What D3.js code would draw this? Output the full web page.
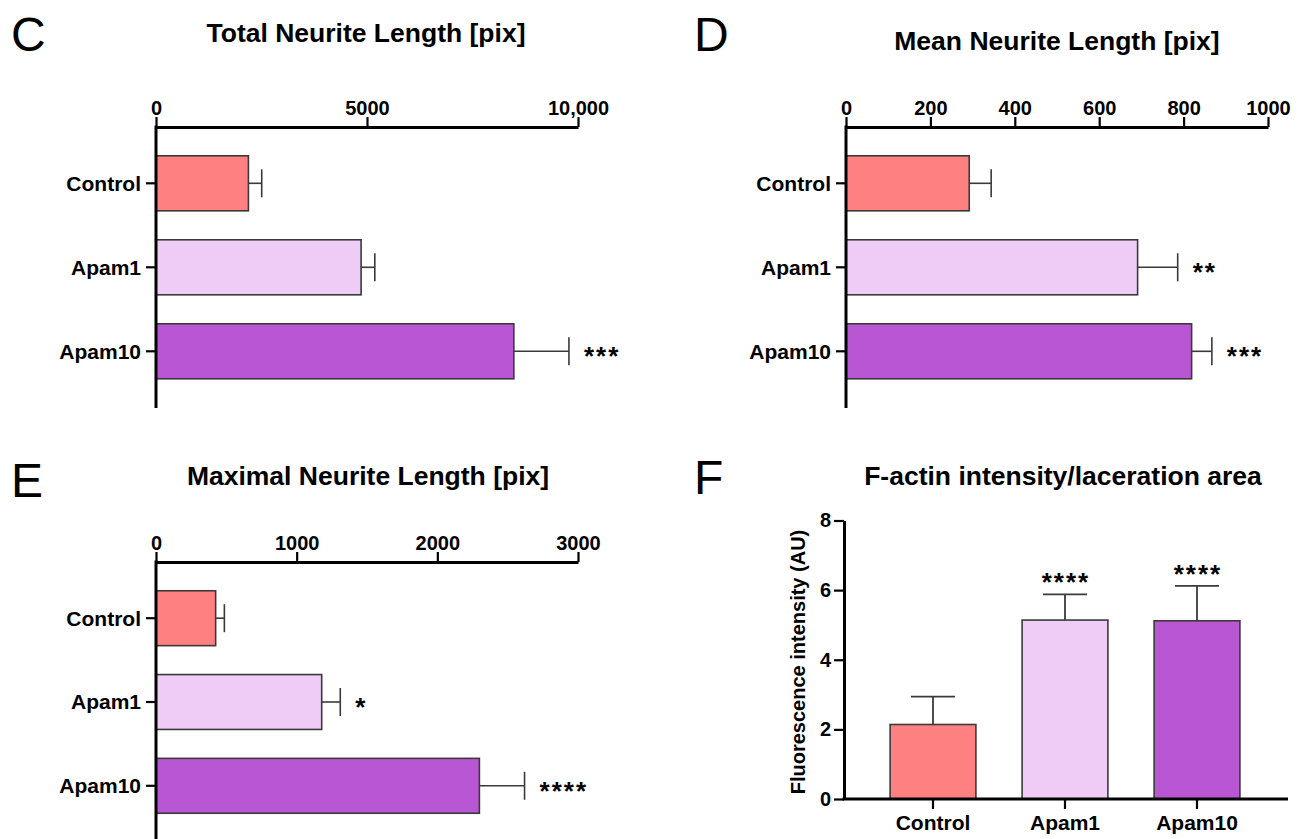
<!DOCTYPE html>
<html><head><meta charset="utf-8">
<script src="https://cdn.jsdelivr.net/npm/d3@7"></script>
<style>
body{margin:0;background:#fff;}
svg{display:block;font-family:"Liberation Sans",Arial,Helvetica,sans-serif;}
</style></head><body>
<svg id="chart" width="1303" height="839"></svg>
<script>
// ---- data ----
const categories = ["Control", "Apam1", "Apam10"];
const barColors = ["#FF8080", "#EECCF6", "#B856D4"];

const totalTitle = "Total Neurite Length [pix]";
const totalMean = [2190, 4860, 8480];
const totalErr = [315, 325, 1305];
const totalStars = ["", "", "***"];
const totalTicks = [0, 5000, 10000];
const totalTickLabels = ["0", "5000", "10,000"];

const meanTitle = "Mean Neurite Length [pix]";
const meanMean = [292, 691, 819];
const meanErr = [52, 95, 48];
const meanStars = ["", "**", "***"];
const meanTicks = [0, 200, 400, 600, 800, 1000];
const meanTickLabels = ["0", "200", "400", "600", "800", "1000"];

const maxTitle = "Maximal Neurite Length [pix]";
const maxMean = [424, 1178, 2299];
const maxErr = [62, 132, 321];
const maxStars = ["", "*", "****"];
const maxTicks = [0, 1000, 2000, 3000];
const maxTickLabels = ["0", "1000", "2000", "3000"];

const factinTitle = "F-actin intensity/laceration area";
const factinYLabel = "Fluorescence intensity (AU)";
const factinMean = [2.14, 5.14, 5.12];
const factinErr = [0.80, 0.74, 1.00];
const factinStars = ["", "****", "****"];
const factinTicks = [0, 2, 4, 6, 8];

const svg = d3.select("#chart");
const INK = "#000";
const BAR_STROKE = "#3a3a3a";
const ERR_STROKE = "#3a3a3a";

function panelLetter(txt, x, y) {
  svg.append("text").attr("x", x).attr("y", y).text(txt)
    .attr("font-size", 48).attr("font-weight", "normal").attr("fill", INK);
}
function panelTitle(txt, cx, y) {
  svg.append("text").attr("x", cx).attr("y", y).text(txt)
    .attr("text-anchor", "middle").attr("font-size", 26.5)
    .attr("font-weight", "bold").attr("fill", INK);
}

function hPanel(cfg) {
  const g = svg.append("g");
  const x = d3.scaleLinear().domain([0, cfg.max]).range([cfg.x0, cfg.x1]);
  const y = d3.scaleBand().domain(categories).range(cfg.band)
    .paddingInner(0.345).paddingOuter(0.1725);
  const data = categories.map((c, i) => ({c, i, m: cfg.means[i], e: cfg.errs[i], s: cfg.stars[i]}));

  // bars
  g.selectAll("rect.bar").data(data).join("rect")
    .attr("x", x(0)).attr("y", d => y(d.c))
    .attr("width", d => x(d.m) - x(0)).attr("height", y.bandwidth())
    .attr("fill", d => barColors[d.i]).attr("stroke", BAR_STROKE).attr("stroke-width", 1.6);

  // error bars
  const cap = 14;
  g.selectAll("line.err").data(data).join("line")
    .attr("x1", d => x(d.m)).attr("x2", d => x(d.m + d.e))
    .attr("y1", d => y(d.c) + y.bandwidth() / 2).attr("y2", d => y(d.c) + y.bandwidth() / 2)
    .attr("stroke", ERR_STROKE).attr("stroke-width", 1.6);
  g.selectAll("line.cap").data(data).join("line")
    .attr("x1", d => x(d.m + d.e)).attr("x2", d => x(d.m + d.e))
    .attr("y1", d => y(d.c) + y.bandwidth() / 2 - cap).attr("y2", d => y(d.c) + y.bandwidth() / 2 + cap)
    .attr("stroke", ERR_STROKE).attr("stroke-width", 1.6);

  // stars
  g.selectAll("text.star").data(data).join("text")
    .attr("x", d => x(d.m + d.e) + 15).attr("y", d => y(d.c) + y.bandwidth() / 2 + 14)
    .attr("font-size", 26).attr("font-weight", "bold").attr("letter-spacing", 2)
    .attr("fill", INK).text(d => d.s);

  // top axis
  const ax = d3.axisTop(x).tickValues(cfg.ticks).tickFormat((d, i) => cfg.tickLabels[i])
    .tickSize(10).tickSizeOuter(0).tickPadding(2);
  const axg = g.append("g").attr("transform", `translate(0,${cfg.axisY})`).call(ax);
  axg.select(".domain").attr("stroke", INK).attr("stroke-width", 3);
  axg.selectAll(".tick line").attr("stroke", INK).attr("stroke-width", 2.2);
  axg.selectAll(".tick text").attr("font-size", 20).attr("font-weight", "bold")
    .attr("fill", INK).attr("font-family", null);
  axg.attr("font-family", null);

  // left axis
  g.append("line").attr("x1", x(0)).attr("x2", x(0))
    .attr("y1", cfg.axisY - 1.5).attr("y2", cfg.vEnd)
    .attr("stroke", INK).attr("stroke-width", 3);
  const ay = d3.axisLeft(y).tickSize(10).tickPadding(5);
  const ayg = g.append("g").attr("transform", `translate(${x(0)},0)`).call(ay);
  ayg.select(".domain").remove();
  ayg.attr("font-family", null);
  ayg.selectAll(".tick line").attr("stroke", INK).attr("stroke-width", 2.2);
  ayg.selectAll(".tick text").attr("font-size", 21).attr("font-weight", "bold")
    .attr("fill", INK).attr("dy", "0.35em");
}

// C
panelLetter("C", 11, 51);
panelTitle(totalTitle, 366, 42);
hPanel({x0: 156, x1: 578, max: 10000, axisY: 127, band: [141.3, 393.3], vEnd: 408,
  means: totalMean, errs: totalErr, stars: totalStars, ticks: totalTicks, tickLabels: totalTickLabels});

// D
panelLetter("D", 694, 51);
panelTitle(meanTitle, 1057, 50);
hPanel({x0: 846, x1: 1268, max: 1000, axisY: 127, band: [141.3, 393.3], vEnd: 408,
  means: meanMean, errs: meanErr, stars: meanStars, ticks: meanTicks, tickLabels: meanTickLabels});

// E
panelLetter("E", 11, 497);
panelTitle(maxTitle, 368, 485);
hPanel({x0: 156, x1: 578, max: 3000, axisY: 562, band: [576.3, 827.7], vEnd: 850,
  means: maxMean, errs: maxErr, stars: maxStars, ticks: maxTicks, tickLabels: maxTickLabels});

// F
panelLetter("F", 694, 494);
panelTitle(factinTitle, 1063, 485);
(function () {
  const g = svg.append("g");
  const y = d3.scaleLinear().domain([0, 8]).range([799, 520.5]);
  const x = d3.scaleBand().domain(categories).range([867, 1263])
    .paddingInner(0.35).paddingOuter(0.175);
  const data = categories.map((c, i) => ({c, i, m: factinMean[i], e: factinErr[i], s: factinStars[i]}));
  const x0 = 844, xEnd = 1288;

  g.selectAll("rect.bar").data(data).join("rect")
    .attr("x", d => x(d.c)).attr("y", d => y(d.m))
    .attr("width", x.bandwidth()).attr("height", d => y(0) - y(d.m))
    .attr("fill", d => barColors[d.i]).attr("stroke", BAR_STROKE).attr("stroke-width", 1.6);

  const cap = 22;
  g.selectAll("line.err").data(data).join("line")
    .attr("x1", d => x(d.c) + x.bandwidth() / 2).attr("x2", d => x(d.c) + x.bandwidth() / 2)
    .attr("y1", d => y(d.m)).attr("y2", d => y(d.m + d.e))
    .attr("stroke", ERR_STROKE).attr("stroke-width", 1.8);
  g.selectAll("line.cap").data(data).join("line")
    .attr("x1", d => x(d.c) + x.bandwidth() / 2 - cap).attr("x2", d => x(d.c) + x.bandwidth() / 2 + cap)
    .attr("y1", d => y(d.m + d.e)).attr("y2", d => y(d.m + d.e))
    .attr("stroke", ERR_STROKE).attr("stroke-width", 1.8);

  g.selectAll("text.star").data(data).join("text")
    .attr("x", d => x(d.c) + x.bandwidth() / 2 + 1).attr("y", d => y(d.m + d.e) - 3)
    .attr("text-anchor", "middle")
    .attr("font-size", 26).attr("font-weight", "bold").attr("letter-spacing", 2)
    .attr("fill", INK).text(d => d.s);

  // y axis
  const ay = d3.axisLeft(y).tickValues(factinTicks).tickFormat(d3.format("d"))
    .tickSize(10).tickSizeOuter(0).tickPadding(3);
  const ayg = g.append("g").attr("transform", `translate(${x0},0)`).call(ay);
  ayg.attr("font-family", null);
  ayg.select(".domain").attr("stroke", INK).attr("stroke-width", 3);
  ayg.selectAll(".tick line").attr("stroke", INK).attr("stroke-width", 2.2);
  ayg.selectAll(".tick text").attr("font-size", 20).attr("font-weight", "bold").attr("fill", INK);

  // x axis
  g.append("line").attr("x1", x0 - 1.5).attr("x2", xEnd).attr("y1", y(0)).attr("y2", y(0))
    .attr("stroke", INK).attr("stroke-width", 3);
  const ax = d3.axisBottom(x).tickSize(10).tickPadding(6);
  const axg = g.append("g").attr("transform", `translate(0,${y(0)})`).call(ax);
  axg.attr("font-family", null);
  axg.select(".domain").remove();
  axg.selectAll(".tick line").attr("stroke", INK).attr("stroke-width", 2.2);
  axg.selectAll(".tick text").attr("font-size", 21).attr("font-weight", "bold").attr("fill", INK);

  // y label
  svg.append("text").attr("transform", `translate(805,662) rotate(-90)`)
    .attr("text-anchor", "middle").attr("font-size", 20).attr("font-weight", "bold")
    .attr("fill", INK).text(factinYLabel);
})();
</script>
</body></html>
